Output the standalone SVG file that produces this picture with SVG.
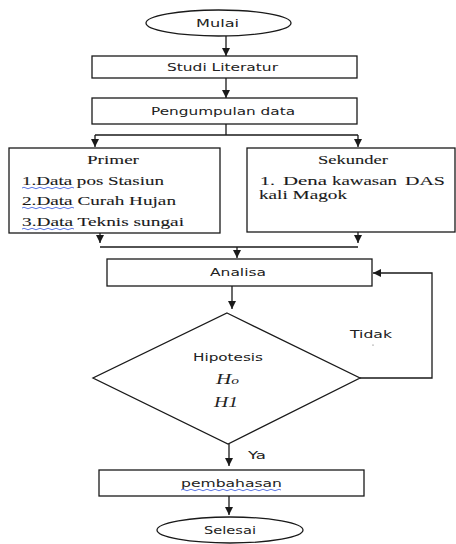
<svg xmlns="http://www.w3.org/2000/svg" width="456" height="544" viewBox="0 0 456 544">
<style>
.b{fill:#fff;stroke:#1a1a1a;stroke-width:1.3}
.c{fill:none;stroke:#1a1a1a;stroke-width:1.3}
.s{font-family:"DejaVu Sans",sans-serif;font-size:10.5px;fill:#222}
.f{font-family:"Liberation Serif",serif;font-size:12.5px;fill:#1a1a1a;stroke:#1a1a1a;stroke-width:0.1}
.i{font-family:"Liberation Serif",serif;font-size:15px;font-style:italic;fill:#222}
.w{fill:none;stroke:#3355dd;stroke-width:0.8}
</style>
<defs>
<marker id="a" viewBox="0 0 10 10" refX="10" refY="5" markerWidth="8" markerHeight="8" markerUnits="userSpaceOnUse" orient="auto">
<path d="M0,0 L10,5 L0,10 z" fill="#1a1a1a"/>
</marker>
</defs>
<g id="connectors">
<line class="c" x1="226" y1="36" x2="226" y2="56" marker-end="url(#a)"/>
<line class="c" x1="226" y1="78" x2="226" y2="98" marker-end="url(#a)"/>
<polyline class="c" points="226,124 226,135"/>
<line class="c" x1="95" y1="135" x2="358" y2="135"/>
<line class="c" x1="95" y1="135" x2="95" y2="147" marker-end="url(#a)"/>
<line class="c" x1="358" y1="135" x2="358" y2="147" marker-end="url(#a)"/>
<line class="c" x1="100" y1="233" x2="100" y2="243" marker-end="url(#a)"/>
<line class="c" x1="358" y1="232" x2="358" y2="243" marker-end="url(#a)"/>
<line class="c" x1="100" y1="247" x2="358" y2="247"/>
<line class="c" x1="237" y1="247" x2="237" y2="258" marker-end="url(#a)"/>
<line class="c" x1="232" y1="286" x2="232" y2="309" marker-end="url(#a)"/>
<polyline class="c" points="360,378 432,378 432,273 373,273" marker-end="url(#a)"/>
<line class="c" x1="229" y1="444" x2="229" y2="466" marker-end="url(#a)"/>
<line class="c" x1="229" y1="496" x2="229" y2="515" marker-end="url(#a)"/>
<text class="s" x="350" y="338" textLength="42" lengthAdjust="spacingAndGlyphs">Tidak</text>
<circle cx="373" cy="345" r="0.6" fill="#555"/>
<text class="s" x="248" y="459" textLength="18" lengthAdjust="spacingAndGlyphs">Ya</text>
</g>
<g id="mulai">
<ellipse class="b" cx="218.5" cy="23" rx="72.5" ry="13"/>
<text class="s" x="196" y="27" textLength="43" lengthAdjust="spacingAndGlyphs">Mulai</text>
</g>
<g id="studi">
<rect class="b" x="92" y="56" width="265" height="22"/>
<text class="s" x="167" y="71" textLength="111" lengthAdjust="spacingAndGlyphs">Studi Literatur</text>
</g>
<g id="pengumpulan">
<rect class="b" x="92" y="98" width="265" height="26"/>
<text class="s" x="151" y="115" textLength="144" lengthAdjust="spacingAndGlyphs">Pengumpulan data</text>
</g>
<g id="primer">
<rect class="b" x="9" y="148" width="211" height="85"/>
<text class="f" x="87" y="164" textLength="52" lengthAdjust="spacingAndGlyphs">Primer</text>
<text class="f" x="22" y="185" textLength="142" lengthAdjust="spacingAndGlyphs">1.Data pos Stasiun</text>
<text class="f" x="22" y="205" textLength="154" lengthAdjust="spacingAndGlyphs">2.Data Curah Hujan</text>
<text class="f" x="22" y="226" textLength="162" lengthAdjust="spacingAndGlyphs">3.Data Teknis sungai</text>
<path class="w" d="M22,188 q2,-1.5 4,0 t4,0 t4,0 t4,0 t4,0 t4,0 t4,0 t4,0 t4,0 t4,0 t4,0 t4,0 t4,0"/>
<path class="w" d="M22,208 q2,-1.5 4,0 t4,0 t4,0 t4,0 t4,0 t4,0 t4,0 t4,0 t4,0 t4,0 t4,0 t4,0 t4,0"/>
<path class="w" d="M22,229 q2,-1.5 4,0 t4,0 t4,0 t4,0 t4,0 t4,0 t4,0 t4,0 t4,0 t4,0 t4,0 t4,0 t4,0"/>
</g>
<g id="sekunder">
<rect class="b" x="247" y="148" width="208" height="84"/>
<text class="f" x="318" y="164" textLength="70" lengthAdjust="spacingAndGlyphs">Sekunder</text>
<text class="f" x="260" y="185" textLength="15" lengthAdjust="spacingAndGlyphs">1.</text>
<text class="f" x="283" y="185" textLength="44" lengthAdjust="spacingAndGlyphs">Dena</text>
<text class="f" x="332" y="185" textLength="65" lengthAdjust="spacingAndGlyphs">kawasan</text>
<text class="f" x="405" y="185" textLength="40" lengthAdjust="spacingAndGlyphs">DAS</text>
<text class="f" x="259" y="199" textLength="88" lengthAdjust="spacingAndGlyphs">kali Magok</text>
</g>
<g id="analisa">
<rect class="b" x="107" y="259" width="265" height="27"/>
<text class="s" x="210" y="276" textLength="56" lengthAdjust="spacingAndGlyphs">Analisa</text>
</g>
<g id="hipotesis">
<polygon class="b" points="227,313 360,378 228,444 93,378"/>
<text class="s" x="193" y="361" textLength="70" lengthAdjust="spacingAndGlyphs">Hipotesis</text>
<text class="i" x="216" y="384" textLength="23" lengthAdjust="spacingAndGlyphs">H<tspan font-size="11">o</tspan></text>
<text class="i" x="214" y="407" textLength="24" lengthAdjust="spacingAndGlyphs">H1</text>
</g>
<g id="pembahasan">
<rect class="b" x="99" y="470" width="265" height="26"/>
<text class="s" x="181" y="487" textLength="101" lengthAdjust="spacingAndGlyphs">pembahasan</text>
<path class="w" d="M181,490 q2,-1.5 4,0 t4,0 t4,0 t4,0 t4,0 t4,0 t4,0 t4,0 t4,0 t4,0 t4,0 t4,0 t4,0 t4,0 t4,0 t4,0 t4,0 t4,0 t4,0 t4,0 t4,0 t4,0 t4,0 t4,0 t4,0"/>
</g>
<g id="selesai">
<ellipse class="b" cx="230" cy="530" rx="73" ry="13"/>
<text class="s" x="204" y="534" textLength="52" lengthAdjust="spacingAndGlyphs">Selesai</text>
</g>
</svg>
